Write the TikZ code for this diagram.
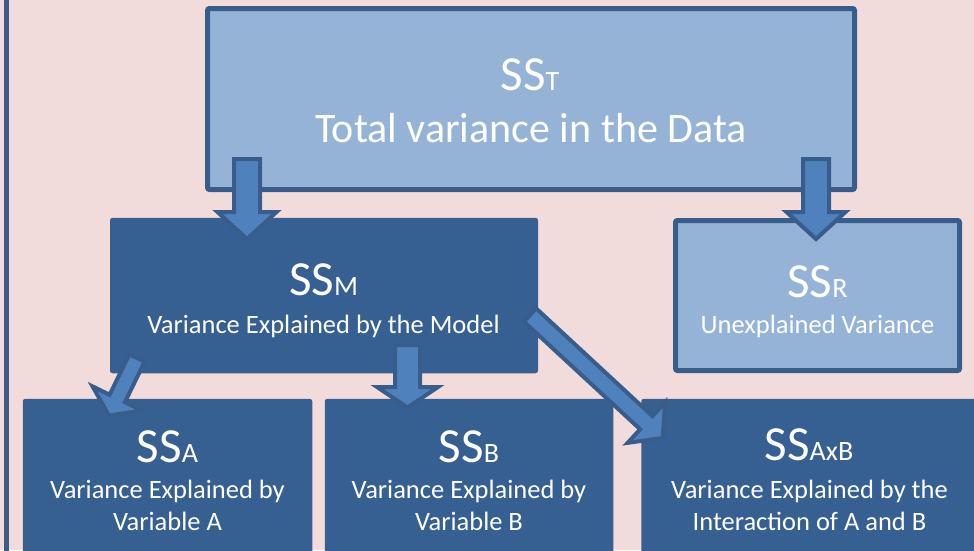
\documentclass[tikz,border=0pt]{standalone}
\usepackage{fontspec}
\setmainfont{Carlito}
\definecolor{bgpink}{HTML}{F2DCDB}
\definecolor{edgeblue}{HTML}{385D8A}
\definecolor{lightfill}{HTML}{95B3D7}
\definecolor{darkfill}{HTML}{376092}
\definecolor{darkedge}{HTML}{3B5E8C}
\definecolor{arrowfill}{HTML}{4F81BD}
\newcommand\bigSS[1]{{\fontsize{49}{49}\selectfont SS}{\fontsize{28}{28}\selectfont #1}}
\newcommand\blockarr[7]{%
  \begin{scope}[shift={(#1,#2)},rotate=#3]
    \draw[blockarrow] (-#5,0) -- (#5,0) -- (#5,#4-#7) -- (#6,#4-#7) -- (0,#4)
      -- (-#6,#4-#7) -- (-#5,#4-#7) -- cycle;
  \end{scope}}
\begin{document}
\begin{tikzpicture}[x=1pt,y=-1pt,
  lightbox/.style={draw=edgeblue, fill=lightfill, line width=5pt, rounded corners=2pt, inner sep=0pt},
  darkbox/.style={draw=darkedge, fill=darkfill, line width=1.5pt, rounded corners=2pt, inner sep=0pt},
  txt/.style={text=white, inner sep=0pt, anchor=base},
  body/.style={txt, font=\fontsize{26.5}{30}\selectfont},
  big/.style={txt, font=\fontsize{42}{46}\selectfont},
  blockarrow/.style={draw=edgeblue, fill=arrowfill, line width=4pt, line join=miter}]
\useasboundingbox (0,0) rectangle (974,550);
\clip (0,0) rectangle (974,550);
\fill[bgpink] (0,0) rectangle (974,550);
\draw[edgeblue, line width=5pt] (6.5,-5) -- (6.5,560);

% boxes
\node[lightbox, minimum width=647pt, minimum height=181pt] (T) at (531,99) {};
\node[darkbox, minimum width=426.5pt, minimum height=154pt] (M) at (324,295.5) {};
\node[lightbox, minimum width=284pt, minimum height=150pt] (R) at (817.5,295.5) {};
\node[darkbox, minimum width=288pt, minimum height=200pt] (A) at (167.5,499.5) {};
\node[darkbox, minimum width=287pt, minimum height=200pt] (B) at (469,499.5) {};
\node[darkbox, minimum width=360pt, minimum height=200pt] (AB) at (822,499.5) {};

% texts
\node[txt] (tT) at (530,90) {\bigSS{T}};
\node[big] (tT2) at (531,142) {Total variance in the Data};
\node[txt] (tM) at (323.5,295) {\bigSS{M}};
\node[body] (tM2) at (323.5,333) {Variance Explained by the Model};
\node[txt] (tR) at (817.5,297) {\bigSS{R}};
\node[body] (tR2) at (817.5,333) {Unexplained Variance};
\node[txt] (tA) at (167.5,462) {\bigSS{A}};
\node[body] (tA2) at (167.5,498) {Variance Explained by};
\node[body] (tA3) at (167.5,530) {Variable A};
\node[txt] (tB) at (469,462) {\bigSS{B}};
\node[body] (tB2) at (469,498) {Variance Explained by};
\node[body] (tB3) at (469,530) {Variable B};
\node[txt] (tAB) at (809,460) {\bigSS{AxB}};
\node[body] (tAB2) at (809.5,498) {Variance Explained by the};
\node[body] (tAB3) at (809.5,530) {Interaction of A and B};

% block arrows: x, y, angle, length, shaft half, head half, head length
\blockarr{247}{159}{0}{80}{13}{29.5}{27}
\blockarr{816}{159}{0}{80}{13}{29.5}{27}
\blockarr{407.5}{345}{0}{62.5}{12.5}{30.5}{20.5}
\blockarr{137}{358}{-26}{64}{8.5}{27.5}{19}
\blockarr{530}{315}{47.2}{181}{9}{27.5}{22.5}
\end{tikzpicture}
\end{document}
